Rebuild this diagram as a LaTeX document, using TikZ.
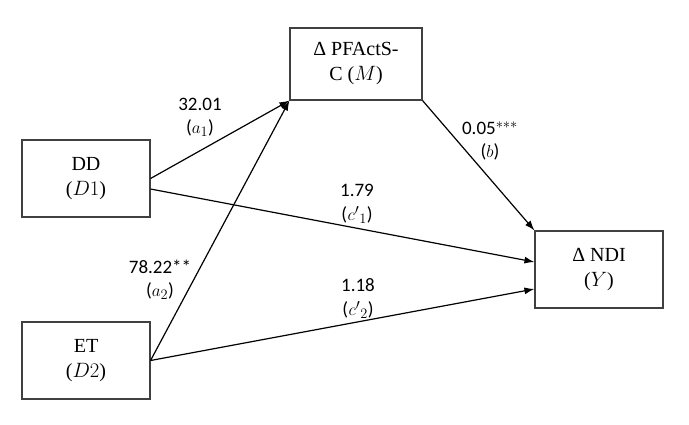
\documentclass[tikz,border=0pt]{standalone}
\usepackage{fontspec}
\setmainfont{Liberation Serif}
\newfontfamily\lblfont{Carlito}
\usetikzlibrary{arrows.meta}
\begin{document}
\begin{tikzpicture}[x=1pt,y=-1pt,
  boxnode/.style={draw=black!75,line width=1.1pt,minimum width=128pt,minimum height=77pt,align=center,inner sep=0pt,
    font=\fontsize{20}{25}\selectfont},
  conn/.style={line width=1.2pt,-{Latex[length=10pt,width=7pt]}},
  lbl/.style={font=\lblfont\fontsize{19}{23}\selectfont,align=center,inner sep=0pt}]
\useasboundingbox (0,0) rectangle (689,424);
\node[boxnode] (DD) at (86,178.5) {DD\\($D1$)};
\node[boxnode] (ET) at (86,360.5) {ET\\($D2$)};
\node[boxnode,minimum width=132pt,minimum height=72pt] (M) at (356,64) {Δ PFActS-\\C ($M$)};
\node[boxnode] (Y) at (599,269.5) {Δ NDI\\($Y$)};
\draw[conn] (DD.east) -- (M.south west);
\draw[conn] (ET.east) -- (M.south west);
\draw[conn] ([yshift=-10.5pt]DD.east) -- ([yshift=7.5pt]Y.west);
\draw[conn] (ET.east) -- ([yshift=-19.5pt]Y.west);
\draw[conn] (M.south east) -- (Y.north west);
\node[lbl] (la1) at (200,117) {32.01\\($a_{1}$)};
\node[lbl] (lb) at (490,141) {0.05$^{***}$\\($b$)};
\node[lbl] (lc1t) at (357,190) {1.79};
\node[lbl] (lc1) at (357,215) {(\kern0.5pt$c^{\prime}{}_{1}$)};
\node[lbl] (la2) at (160,280) {78.22**\\($a_{2}$)};
\node[lbl] (lc2t) at (358,285) {1.18};
\node[lbl] (lc2) at (358,310) {(\kern0.5pt$c^{\prime}{}_{2}$)};
\end{tikzpicture}
\end{document}
